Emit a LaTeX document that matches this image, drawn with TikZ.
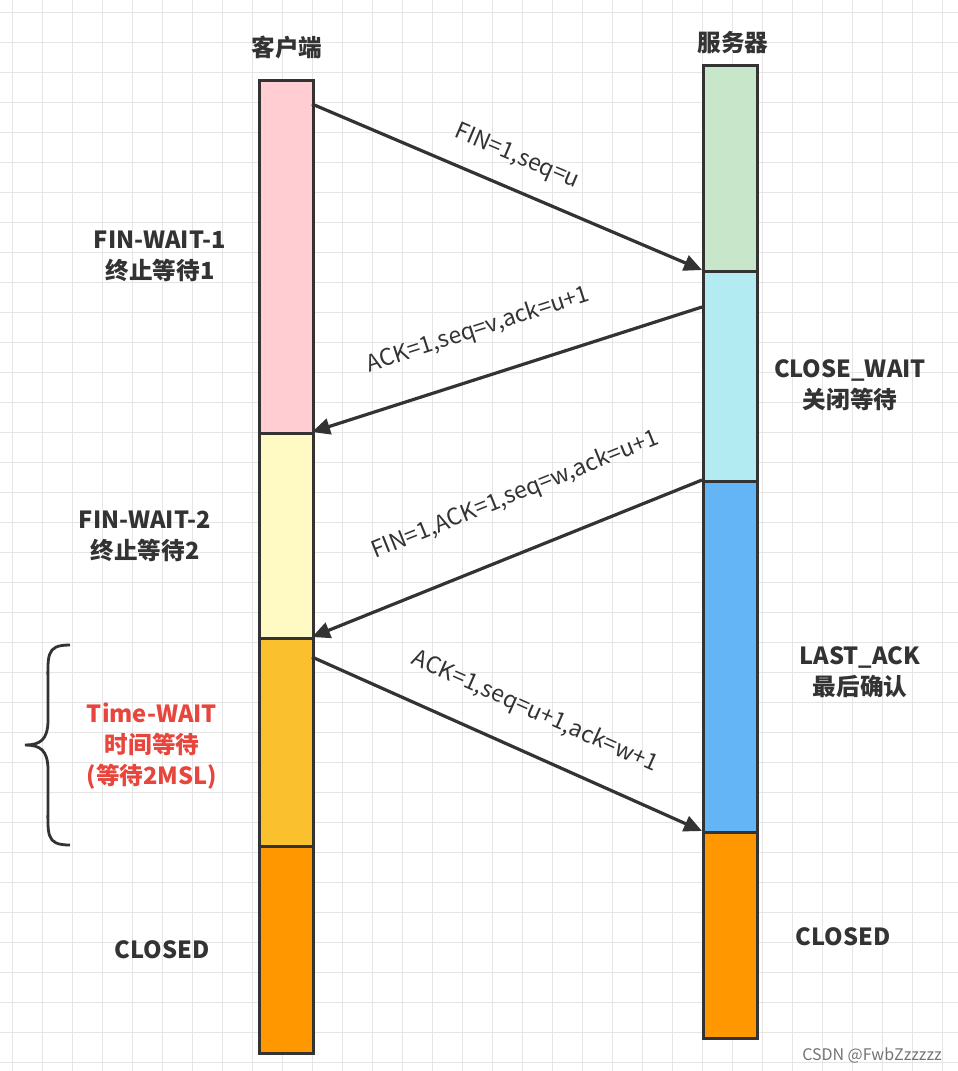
\documentclass[tikz,border=0pt]{standalone}
\usepackage{fontspec}
\setmainfont{Noto Sans CJK SC}
\usetikzlibrary{arrows.meta}
\definecolor{ln}{HTML}{333333}
\definecolor{cpink}{HTML}{FFCDD2}
\definecolor{cyel}{HTML}{FFF9C4}
\definecolor{cgold}{HTML}{FBC02D}
\definecolor{corg}{HTML}{FF9800}
\definecolor{cgrn}{HTML}{C8E6C9}
\definecolor{ccyan}{HTML}{B2EBF2}
\definecolor{cblue}{HTML}{64B5F6}
\definecolor{cred}{HTML}{E8453C}
\begin{document}
\begin{tikzpicture}[x=0.5pt,y=-0.5pt,
  seg/.style={draw=ln,line width=1.6pt},
  msg/.style={draw=ln,line width=1.6pt,-{Triangle[length=9pt,width=8pt]}},
  lab/.style={font=\fontsize{11.5}{13}\selectfont,text=ln},
  st/.style={font=\bfseries\fontsize{11.8}{15.5}\selectfont,align=center,text=ln}]
\useasboundingbox (0,0) rectangle (958,1071);
\fill[white] (0,0) rectangle (958,1071);
\foreach \i in {12,42,...,958} \draw[black!10,line width=0.5pt] (\i,0) -- (\i,1071);
\foreach \i in {12,42,...,1071} \draw[black!10,line width=0.5pt] (0,\i) -- (958,\i);
% client
\node[seg,fill=cpink,minimum width=27pt,minimum height=176.5pt,inner sep=0,anchor=north west] (c1) at (258,79) {};
\node[seg,fill=cyel,minimum width=27pt,minimum height=102.5pt,inner sep=0,anchor=north west] (c2) at (258,432) {};
\node[seg,fill=cgold,minimum width=27pt,minimum height=104pt,inner sep=0,anchor=north west] (c3) at (258,637) {};
\node[seg,fill=corg,minimum width=27pt,minimum height=103.5pt,inner sep=0,anchor=north west] (c4) at (258,845) {};
% server
\node[seg,fill=cgrn,minimum width=27pt,minimum height=103pt,inner sep=0,anchor=north west] (s1) at (702,64) {};
\node[seg,fill=ccyan,minimum width=27pt,minimum height=105pt,inner sep=0,anchor=north west] (s2) at (702,270) {};
\node[seg,fill=cblue,minimum width=27pt,minimum height=175.5pt,inner sep=0,anchor=north west] (s3) at (702,480) {};
\node[seg,fill=corg,minimum width=27pt,minimum height=103pt,inner sep=0,anchor=north west] (s4) at (702,831) {};
\node[st] (ct) at (287,47) {客户端};
\node[st] (stt) at (733,43) {服务器};
% messages
\coordinate (a1) at (312,104); \coordinate (b1) at (702,270);
\coordinate (a2) at (702,307); \coordinate (b2) at (312,432);
\coordinate (a3) at (702,480); \coordinate (b3) at (312,637);
\coordinate (a4) at (312,657); \coordinate (b4) at (702,831);
\draw[msg] (a1) -- (b1);
\draw[msg] (a2) -- (b2);
\draw[msg] (a3) -- (b3);
\draw[msg] (a4) -- (b4);
\node[lab,rotate=-23] (l1) at (517,157) {FIN=1,seq=u};
\node[lab,rotate=18] (l2) at (478,330) {ACK=1,seq=v,ack=u+1};
\node[lab,rotate=22] (l3) at (515,495) {FIN=1,ACK=1,seq=w,ack=u+1};
\node[lab,rotate=-24] (l4) at (535,712) {ACK=1,seq=u+1,ack=w+1};
% states
\node[st] (t1) at (160,256) {FIN-WAIT-1\\终止等待1};
\node[st] (t2) at (145,536) {FIN-WAIT-2\\终止等待2};
\node[st,text=cred] (t3) at (152,746) {Time-WAIT\\时间等待\\(等待2MSL)};
\node[st] (t4) at (162,950) {CLOSED};
\node[st] (t5) at (850,385) {CLOSE\_WAIT\\关闭等待};
\node[st] (t6) at (860,672) {LAST\_ACK\\最后确认};
\node[st] (t7) at (843,937) {CLOSED};
\draw[ln,line width=1.4pt] (70,645) .. controls (45,645) and (48,655) .. (48,690) -- (48,720) .. controls (48,740) and (40,745) .. (25,745) .. controls (40,745) and (48,750) .. (48,770) -- (48,800) .. controls (48,835) and (45,845) .. (70,845);
\node[font=\fontsize{8}{10}\selectfont,text=black!55] (wm) at (872,1056) {CSDN @FwbZzzzzz};
\end{tikzpicture}
\end{document}
